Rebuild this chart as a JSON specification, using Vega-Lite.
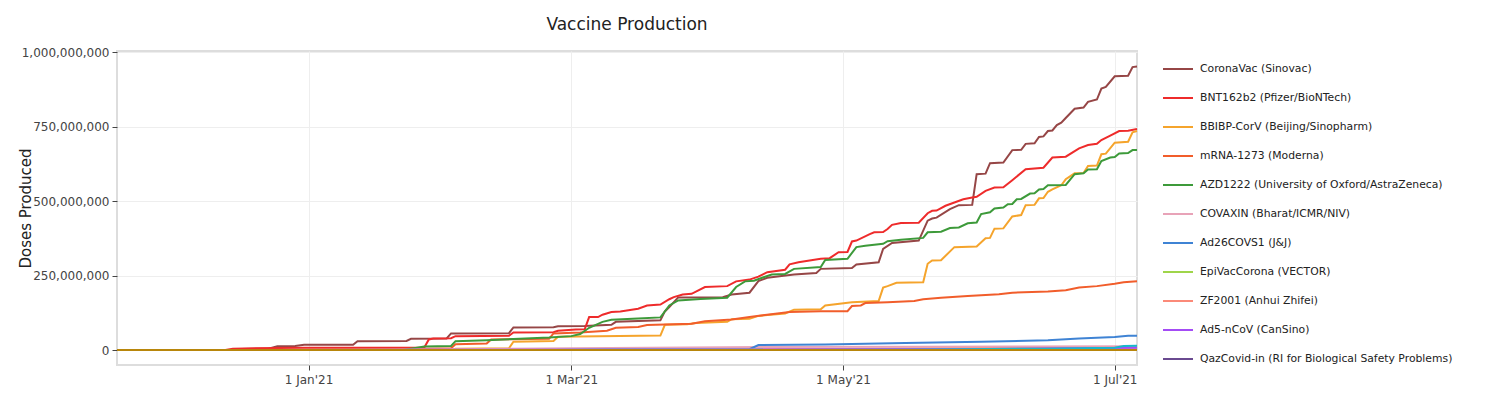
{
  "$schema": "https://vega.github.io/schema/vega-lite/v6.json",
  "width": 1020,
  "height": 314,
  "autosize": "none",
  "padding": {"left": 117, "top": 51, "right": 355, "bottom": 31},
  "background": "white",
  "title": {"text": "Vaccine Production", "fontSize": 17, "font": "DejaVu Sans", "fontWeight": "normal", "color": "#222", "anchor": "middle", "frame": "group", "offset": 12},
  "config": {
    "font": "DejaVu Sans",
    "view": {"stroke": "#dddddd", "strokeWidth": 2},
    "axis": {"domain": false, "gridColor": "#eeeeee", "gridWidth": 1, "tickColor": "#444", "tickSize": 5, "labelColor": "#444", "labelFontSize": 12, "labelFont": "DejaVu Sans"}
  },
  "data": {"values": [
    {"vaccine": "CoronaVac (Sinovac)", "date": "2020-11-19", "doses": 0},
    {"vaccine": "CoronaVac (Sinovac)", "date": "2020-12-15", "doses": 0},
    {"vaccine": "CoronaVac (Sinovac)", "date": "2020-12-17", "doses": 4000000},
    {"vaccine": "CoronaVac (Sinovac)", "date": "2020-12-23", "doses": 5000000},
    {"vaccine": "CoronaVac (Sinovac)", "date": "2020-12-25", "doses": 13000000},
    {"vaccine": "CoronaVac (Sinovac)", "date": "2020-12-29", "doses": 14000000},
    {"vaccine": "CoronaVac (Sinovac)", "date": "2020-12-31", "doses": 18000000},
    {"vaccine": "CoronaVac (Sinovac)", "date": "2021-01-11", "doses": 18000000},
    {"vaccine": "CoronaVac (Sinovac)", "date": "2021-01-12", "doses": 30000000},
    {"vaccine": "CoronaVac (Sinovac)", "date": "2021-01-23", "doses": 31000000},
    {"vaccine": "CoronaVac (Sinovac)", "date": "2021-01-24", "doses": 38000000},
    {"vaccine": "CoronaVac (Sinovac)", "date": "2021-02-01", "doses": 39000000},
    {"vaccine": "CoronaVac (Sinovac)", "date": "2021-02-02", "doses": 56000000},
    {"vaccine": "CoronaVac (Sinovac)", "date": "2021-02-15", "doses": 57000000},
    {"vaccine": "CoronaVac (Sinovac)", "date": "2021-02-16", "doses": 76000000},
    {"vaccine": "CoronaVac (Sinovac)", "date": "2021-02-25", "doses": 77000000},
    {"vaccine": "CoronaVac (Sinovac)", "date": "2021-02-26", "doses": 80000000},
    {"vaccine": "CoronaVac (Sinovac)", "date": "2021-03-04", "doses": 81000000},
    {"vaccine": "CoronaVac (Sinovac)", "date": "2021-03-10", "doses": 85000000},
    {"vaccine": "CoronaVac (Sinovac)", "date": "2021-03-11", "doses": 95000000},
    {"vaccine": "CoronaVac (Sinovac)", "date": "2021-03-21", "doses": 100000000},
    {"vaccine": "CoronaVac (Sinovac)", "date": "2021-03-22", "doses": 130000000},
    {"vaccine": "CoronaVac (Sinovac)", "date": "2021-03-23", "doses": 145000000},
    {"vaccine": "CoronaVac (Sinovac)", "date": "2021-03-25", "doses": 177000000},
    {"vaccine": "CoronaVac (Sinovac)", "date": "2021-04-04", "doses": 178000000},
    {"vaccine": "CoronaVac (Sinovac)", "date": "2021-04-06", "doses": 187000000},
    {"vaccine": "CoronaVac (Sinovac)", "date": "2021-04-10", "doses": 193000000},
    {"vaccine": "CoronaVac (Sinovac)", "date": "2021-04-12", "doses": 232000000},
    {"vaccine": "CoronaVac (Sinovac)", "date": "2021-04-14", "doses": 243000000},
    {"vaccine": "CoronaVac (Sinovac)", "date": "2021-04-20", "doses": 254000000},
    {"vaccine": "CoronaVac (Sinovac)", "date": "2021-04-25", "doses": 259000000},
    {"vaccine": "CoronaVac (Sinovac)", "date": "2021-04-26", "doses": 273000000},
    {"vaccine": "CoronaVac (Sinovac)", "date": "2021-05-03", "doses": 276000000},
    {"vaccine": "CoronaVac (Sinovac)", "date": "2021-05-04", "doses": 288000000},
    {"vaccine": "CoronaVac (Sinovac)", "date": "2021-05-09", "doses": 295000000},
    {"vaccine": "CoronaVac (Sinovac)", "date": "2021-05-10", "doses": 340000000},
    {"vaccine": "CoronaVac (Sinovac)", "date": "2021-05-12", "doses": 360000000},
    {"vaccine": "CoronaVac (Sinovac)", "date": "2021-05-18", "doses": 368000000},
    {"vaccine": "CoronaVac (Sinovac)", "date": "2021-05-20", "doses": 435000000},
    {"vaccine": "CoronaVac (Sinovac)", "date": "2021-05-21", "doses": 442000000},
    {"vaccine": "CoronaVac (Sinovac)", "date": "2021-05-22", "doses": 445000000},
    {"vaccine": "CoronaVac (Sinovac)", "date": "2021-05-25", "doses": 474000000},
    {"vaccine": "CoronaVac (Sinovac)", "date": "2021-05-27", "doses": 487000000},
    {"vaccine": "CoronaVac (Sinovac)", "date": "2021-05-30", "doses": 488000000},
    {"vaccine": "CoronaVac (Sinovac)", "date": "2021-05-31", "doses": 591000000},
    {"vaccine": "CoronaVac (Sinovac)", "date": "2021-06-02", "doses": 593000000},
    {"vaccine": "CoronaVac (Sinovac)", "date": "2021-06-03", "doses": 628000000},
    {"vaccine": "CoronaVac (Sinovac)", "date": "2021-06-06", "doses": 630000000},
    {"vaccine": "CoronaVac (Sinovac)", "date": "2021-06-08", "doses": 672000000},
    {"vaccine": "CoronaVac (Sinovac)", "date": "2021-06-10", "doses": 673000000},
    {"vaccine": "CoronaVac (Sinovac)", "date": "2021-06-11", "doses": 693000000},
    {"vaccine": "CoronaVac (Sinovac)", "date": "2021-06-13", "doses": 695000000},
    {"vaccine": "CoronaVac (Sinovac)", "date": "2021-06-14", "doses": 716000000},
    {"vaccine": "CoronaVac (Sinovac)", "date": "2021-06-15", "doses": 718000000},
    {"vaccine": "CoronaVac (Sinovac)", "date": "2021-06-16", "doses": 736000000},
    {"vaccine": "CoronaVac (Sinovac)", "date": "2021-06-17", "doses": 738000000},
    {"vaccine": "CoronaVac (Sinovac)", "date": "2021-06-18", "doses": 756000000},
    {"vaccine": "CoronaVac (Sinovac)", "date": "2021-06-19", "doses": 764000000},
    {"vaccine": "CoronaVac (Sinovac)", "date": "2021-06-20", "doses": 780000000},
    {"vaccine": "CoronaVac (Sinovac)", "date": "2021-06-22", "doses": 811000000},
    {"vaccine": "CoronaVac (Sinovac)", "date": "2021-06-24", "doses": 815000000},
    {"vaccine": "CoronaVac (Sinovac)", "date": "2021-06-25", "doses": 834000000},
    {"vaccine": "CoronaVac (Sinovac)", "date": "2021-06-27", "doses": 842000000},
    {"vaccine": "CoronaVac (Sinovac)", "date": "2021-06-28", "doses": 879000000},
    {"vaccine": "CoronaVac (Sinovac)", "date": "2021-06-29", "doses": 884000000},
    {"vaccine": "CoronaVac (Sinovac)", "date": "2021-07-01", "doses": 920000000},
    {"vaccine": "CoronaVac (Sinovac)", "date": "2021-07-04", "doses": 922000000},
    {"vaccine": "CoronaVac (Sinovac)", "date": "2021-07-05", "doses": 951000000},
    {"vaccine": "CoronaVac (Sinovac)", "date": "2021-07-06", "doses": 953000000},

    {"vaccine": "BNT162b2 (Pfizer/BioNTech)", "date": "2020-11-19", "doses": 0},
    {"vaccine": "BNT162b2 (Pfizer/BioNTech)", "date": "2020-12-13", "doses": 0},
    {"vaccine": "BNT162b2 (Pfizer/BioNTech)", "date": "2020-12-15", "doses": 5000000},
    {"vaccine": "BNT162b2 (Pfizer/BioNTech)", "date": "2020-12-31", "doses": 8000000},
    {"vaccine": "BNT162b2 (Pfizer/BioNTech)", "date": "2021-01-27", "doses": 9000000},
    {"vaccine": "BNT162b2 (Pfizer/BioNTech)", "date": "2021-01-28", "doses": 36000000},
    {"vaccine": "BNT162b2 (Pfizer/BioNTech)", "date": "2021-01-29", "doses": 39000000},
    {"vaccine": "BNT162b2 (Pfizer/BioNTech)", "date": "2021-02-02", "doses": 40000000},
    {"vaccine": "BNT162b2 (Pfizer/BioNTech)", "date": "2021-02-03", "doses": 47000000},
    {"vaccine": "BNT162b2 (Pfizer/BioNTech)", "date": "2021-02-15", "doses": 48000000},
    {"vaccine": "BNT162b2 (Pfizer/BioNTech)", "date": "2021-02-16", "doses": 59000000},
    {"vaccine": "BNT162b2 (Pfizer/BioNTech)", "date": "2021-02-25", "doses": 60000000},
    {"vaccine": "BNT162b2 (Pfizer/BioNTech)", "date": "2021-02-26", "doses": 65000000},
    {"vaccine": "BNT162b2 (Pfizer/BioNTech)", "date": "2021-03-02", "doses": 69000000},
    {"vaccine": "BNT162b2 (Pfizer/BioNTech)", "date": "2021-03-04", "doses": 70000000},
    {"vaccine": "BNT162b2 (Pfizer/BioNTech)", "date": "2021-03-05", "doses": 111000000},
    {"vaccine": "BNT162b2 (Pfizer/BioNTech)", "date": "2021-03-07", "doses": 111000000},
    {"vaccine": "BNT162b2 (Pfizer/BioNTech)", "date": "2021-03-08", "doses": 119000000},
    {"vaccine": "BNT162b2 (Pfizer/BioNTech)", "date": "2021-03-10", "doses": 128000000},
    {"vaccine": "BNT162b2 (Pfizer/BioNTech)", "date": "2021-03-12", "doses": 130000000},
    {"vaccine": "BNT162b2 (Pfizer/BioNTech)", "date": "2021-03-16", "doses": 139000000},
    {"vaccine": "BNT162b2 (Pfizer/BioNTech)", "date": "2021-03-18", "doses": 150000000},
    {"vaccine": "BNT162b2 (Pfizer/BioNTech)", "date": "2021-03-21", "doses": 153000000},
    {"vaccine": "BNT162b2 (Pfizer/BioNTech)", "date": "2021-03-23", "doses": 171000000},
    {"vaccine": "BNT162b2 (Pfizer/BioNTech)", "date": "2021-03-24", "doses": 178000000},
    {"vaccine": "BNT162b2 (Pfizer/BioNTech)", "date": "2021-03-26", "doses": 187000000},
    {"vaccine": "BNT162b2 (Pfizer/BioNTech)", "date": "2021-03-28", "doses": 189000000},
    {"vaccine": "BNT162b2 (Pfizer/BioNTech)", "date": "2021-03-31", "doses": 212000000},
    {"vaccine": "BNT162b2 (Pfizer/BioNTech)", "date": "2021-04-05", "doses": 215000000},
    {"vaccine": "BNT162b2 (Pfizer/BioNTech)", "date": "2021-04-07", "doses": 231000000},
    {"vaccine": "BNT162b2 (Pfizer/BioNTech)", "date": "2021-04-10", "doses": 237000000},
    {"vaccine": "BNT162b2 (Pfizer/BioNTech)", "date": "2021-04-12", "doses": 247000000},
    {"vaccine": "BNT162b2 (Pfizer/BioNTech)", "date": "2021-04-14", "doses": 262000000},
    {"vaccine": "BNT162b2 (Pfizer/BioNTech)", "date": "2021-04-18", "doses": 270000000},
    {"vaccine": "BNT162b2 (Pfizer/BioNTech)", "date": "2021-04-19", "doses": 288000000},
    {"vaccine": "BNT162b2 (Pfizer/BioNTech)", "date": "2021-04-21", "doses": 295000000},
    {"vaccine": "BNT162b2 (Pfizer/BioNTech)", "date": "2021-04-26", "doses": 307000000},
    {"vaccine": "BNT162b2 (Pfizer/BioNTech)", "date": "2021-04-28", "doses": 309000000},
    {"vaccine": "BNT162b2 (Pfizer/BioNTech)", "date": "2021-04-30", "doses": 329000000},
    {"vaccine": "BNT162b2 (Pfizer/BioNTech)", "date": "2021-05-02", "doses": 330000000},
    {"vaccine": "BNT162b2 (Pfizer/BioNTech)", "date": "2021-05-03", "doses": 365000000},
    {"vaccine": "BNT162b2 (Pfizer/BioNTech)", "date": "2021-05-04", "doses": 368000000},
    {"vaccine": "BNT162b2 (Pfizer/BioNTech)", "date": "2021-05-07", "doses": 390000000},
    {"vaccine": "BNT162b2 (Pfizer/BioNTech)", "date": "2021-05-08", "doses": 396000000},
    {"vaccine": "BNT162b2 (Pfizer/BioNTech)", "date": "2021-05-10", "doses": 397000000},
    {"vaccine": "BNT162b2 (Pfizer/BioNTech)", "date": "2021-05-11", "doses": 407000000},
    {"vaccine": "BNT162b2 (Pfizer/BioNTech)", "date": "2021-05-12", "doses": 421000000},
    {"vaccine": "BNT162b2 (Pfizer/BioNTech)", "date": "2021-05-14", "doses": 427000000},
    {"vaccine": "BNT162b2 (Pfizer/BioNTech)", "date": "2021-05-18", "doses": 428000000},
    {"vaccine": "BNT162b2 (Pfizer/BioNTech)", "date": "2021-05-20", "doses": 460000000},
    {"vaccine": "BNT162b2 (Pfizer/BioNTech)", "date": "2021-05-21", "doses": 468000000},
    {"vaccine": "BNT162b2 (Pfizer/BioNTech)", "date": "2021-05-22", "doses": 469000000},
    {"vaccine": "BNT162b2 (Pfizer/BioNTech)", "date": "2021-05-24", "doses": 485000000},
    {"vaccine": "BNT162b2 (Pfizer/BioNTech)", "date": "2021-05-26", "doses": 496000000},
    {"vaccine": "BNT162b2 (Pfizer/BioNTech)", "date": "2021-05-28", "doses": 507000000},
    {"vaccine": "BNT162b2 (Pfizer/BioNTech)", "date": "2021-05-30", "doses": 513000000},
    {"vaccine": "BNT162b2 (Pfizer/BioNTech)", "date": "2021-05-31", "doses": 515000000},
    {"vaccine": "BNT162b2 (Pfizer/BioNTech)", "date": "2021-06-02", "doses": 535000000},
    {"vaccine": "BNT162b2 (Pfizer/BioNTech)", "date": "2021-06-04", "doses": 546000000},
    {"vaccine": "BNT162b2 (Pfizer/BioNTech)", "date": "2021-06-06", "doses": 547000000},
    {"vaccine": "BNT162b2 (Pfizer/BioNTech)", "date": "2021-06-08", "doses": 571000000},
    {"vaccine": "BNT162b2 (Pfizer/BioNTech)", "date": "2021-06-11", "doses": 608000000},
    {"vaccine": "BNT162b2 (Pfizer/BioNTech)", "date": "2021-06-15", "doses": 613000000},
    {"vaccine": "BNT162b2 (Pfizer/BioNTech)", "date": "2021-06-17", "doses": 647000000},
    {"vaccine": "BNT162b2 (Pfizer/BioNTech)", "date": "2021-06-20", "doses": 650000000},
    {"vaccine": "BNT162b2 (Pfizer/BioNTech)", "date": "2021-06-23", "doses": 678000000},
    {"vaccine": "BNT162b2 (Pfizer/BioNTech)", "date": "2021-06-25", "doses": 689000000},
    {"vaccine": "BNT162b2 (Pfizer/BioNTech)", "date": "2021-06-27", "doses": 693000000},
    {"vaccine": "BNT162b2 (Pfizer/BioNTech)", "date": "2021-06-28", "doses": 706000000},
    {"vaccine": "BNT162b2 (Pfizer/BioNTech)", "date": "2021-06-30", "doses": 721000000},
    {"vaccine": "BNT162b2 (Pfizer/BioNTech)", "date": "2021-07-02", "doses": 736000000},
    {"vaccine": "BNT162b2 (Pfizer/BioNTech)", "date": "2021-07-04", "doses": 737000000},
    {"vaccine": "BNT162b2 (Pfizer/BioNTech)", "date": "2021-07-06", "doses": 743000000},

    {"vaccine": "BBIBP-CorV (Beijing/Sinopharm)", "date": "2020-11-19", "doses": 0},
    {"vaccine": "BBIBP-CorV (Beijing/Sinopharm)", "date": "2021-02-02", "doses": 0},
    {"vaccine": "BBIBP-CorV (Beijing/Sinopharm)", "date": "2021-02-03", "doses": 5000000},
    {"vaccine": "BBIBP-CorV (Beijing/Sinopharm)", "date": "2021-02-15", "doses": 6000000},
    {"vaccine": "BBIBP-CorV (Beijing/Sinopharm)", "date": "2021-02-16", "doses": 28000000},
    {"vaccine": "BBIBP-CorV (Beijing/Sinopharm)", "date": "2021-02-25", "doses": 31000000},
    {"vaccine": "BBIBP-CorV (Beijing/Sinopharm)", "date": "2021-02-26", "doses": 45000000},
    {"vaccine": "BBIBP-CorV (Beijing/Sinopharm)", "date": "2021-03-21", "doses": 49000000},
    {"vaccine": "BBIBP-CorV (Beijing/Sinopharm)", "date": "2021-03-22", "doses": 85000000},
    {"vaccine": "BBIBP-CorV (Beijing/Sinopharm)", "date": "2021-03-27", "doses": 87000000},
    {"vaccine": "BBIBP-CorV (Beijing/Sinopharm)", "date": "2021-03-29", "doses": 91000000},
    {"vaccine": "BBIBP-CorV (Beijing/Sinopharm)", "date": "2021-04-05", "doses": 95000000},
    {"vaccine": "BBIBP-CorV (Beijing/Sinopharm)", "date": "2021-04-06", "doses": 104000000},
    {"vaccine": "BBIBP-CorV (Beijing/Sinopharm)", "date": "2021-04-10", "doses": 105000000},
    {"vaccine": "BBIBP-CorV (Beijing/Sinopharm)", "date": "2021-04-12", "doses": 115000000},
    {"vaccine": "BBIBP-CorV (Beijing/Sinopharm)", "date": "2021-04-18", "doses": 123000000},
    {"vaccine": "BBIBP-CorV (Beijing/Sinopharm)", "date": "2021-04-20", "doses": 136000000},
    {"vaccine": "BBIBP-CorV (Beijing/Sinopharm)", "date": "2021-04-26", "doses": 137000000},
    {"vaccine": "BBIBP-CorV (Beijing/Sinopharm)", "date": "2021-04-27", "doses": 150000000},
    {"vaccine": "BBIBP-CorV (Beijing/Sinopharm)", "date": "2021-05-03", "doses": 161000000},
    {"vaccine": "BBIBP-CorV (Beijing/Sinopharm)", "date": "2021-05-09", "doses": 165000000},
    {"vaccine": "BBIBP-CorV (Beijing/Sinopharm)", "date": "2021-05-10", "doses": 210000000},
    {"vaccine": "BBIBP-CorV (Beijing/Sinopharm)", "date": "2021-05-11", "doses": 215000000},
    {"vaccine": "BBIBP-CorV (Beijing/Sinopharm)", "date": "2021-05-13", "doses": 226000000},
    {"vaccine": "BBIBP-CorV (Beijing/Sinopharm)", "date": "2021-05-19", "doses": 228000000},
    {"vaccine": "BBIBP-CorV (Beijing/Sinopharm)", "date": "2021-05-20", "doses": 290000000},
    {"vaccine": "BBIBP-CorV (Beijing/Sinopharm)", "date": "2021-05-21", "doses": 301000000},
    {"vaccine": "BBIBP-CorV (Beijing/Sinopharm)", "date": "2021-05-23", "doses": 302000000},
    {"vaccine": "BBIBP-CorV (Beijing/Sinopharm)", "date": "2021-05-26", "doses": 346000000},
    {"vaccine": "BBIBP-CorV (Beijing/Sinopharm)", "date": "2021-05-31", "doses": 348000000},
    {"vaccine": "BBIBP-CorV (Beijing/Sinopharm)", "date": "2021-06-02", "doses": 376000000},
    {"vaccine": "BBIBP-CorV (Beijing/Sinopharm)", "date": "2021-06-03", "doses": 377000000},
    {"vaccine": "BBIBP-CorV (Beijing/Sinopharm)", "date": "2021-06-04", "doses": 408000000},
    {"vaccine": "BBIBP-CorV (Beijing/Sinopharm)", "date": "2021-06-06", "doses": 409000000},
    {"vaccine": "BBIBP-CorV (Beijing/Sinopharm)", "date": "2021-06-08", "doses": 449000000},
    {"vaccine": "BBIBP-CorV (Beijing/Sinopharm)", "date": "2021-06-10", "doses": 454000000},
    {"vaccine": "BBIBP-CorV (Beijing/Sinopharm)", "date": "2021-06-11", "doses": 487000000},
    {"vaccine": "BBIBP-CorV (Beijing/Sinopharm)", "date": "2021-06-13", "doses": 488000000},
    {"vaccine": "BBIBP-CorV (Beijing/Sinopharm)", "date": "2021-06-14", "doses": 510000000},
    {"vaccine": "BBIBP-CorV (Beijing/Sinopharm)", "date": "2021-06-15", "doses": 511000000},
    {"vaccine": "BBIBP-CorV (Beijing/Sinopharm)", "date": "2021-06-16", "doses": 532000000},
    {"vaccine": "BBIBP-CorV (Beijing/Sinopharm)", "date": "2021-06-17", "doses": 540000000},
    {"vaccine": "BBIBP-CorV (Beijing/Sinopharm)", "date": "2021-06-19", "doses": 554000000},
    {"vaccine": "BBIBP-CorV (Beijing/Sinopharm)", "date": "2021-06-20", "doses": 574000000},
    {"vaccine": "BBIBP-CorV (Beijing/Sinopharm)", "date": "2021-06-22", "doses": 594000000},
    {"vaccine": "BBIBP-CorV (Beijing/Sinopharm)", "date": "2021-06-24", "doses": 595000000},
    {"vaccine": "BBIBP-CorV (Beijing/Sinopharm)", "date": "2021-06-25", "doses": 619000000},
    {"vaccine": "BBIBP-CorV (Beijing/Sinopharm)", "date": "2021-06-27", "doses": 620000000},
    {"vaccine": "BBIBP-CorV (Beijing/Sinopharm)", "date": "2021-06-28", "doses": 658000000},
    {"vaccine": "BBIBP-CorV (Beijing/Sinopharm)", "date": "2021-06-29", "doses": 660000000},
    {"vaccine": "BBIBP-CorV (Beijing/Sinopharm)", "date": "2021-07-01", "doses": 697000000},
    {"vaccine": "BBIBP-CorV (Beijing/Sinopharm)", "date": "2021-07-04", "doses": 700000000},
    {"vaccine": "BBIBP-CorV (Beijing/Sinopharm)", "date": "2021-07-05", "doses": 732000000},
    {"vaccine": "BBIBP-CorV (Beijing/Sinopharm)", "date": "2021-07-06", "doses": 736000000},

    {"vaccine": "mRNA-1273 (Moderna)", "date": "2020-11-19", "doses": 0},
    {"vaccine": "mRNA-1273 (Moderna)", "date": "2020-12-20", "doses": 0},
    {"vaccine": "mRNA-1273 (Moderna)", "date": "2021-01-27", "doses": 5000000},
    {"vaccine": "mRNA-1273 (Moderna)", "date": "2021-02-02", "doses": 6000000},
    {"vaccine": "mRNA-1273 (Moderna)", "date": "2021-02-03", "doses": 20000000},
    {"vaccine": "mRNA-1273 (Moderna)", "date": "2021-02-10", "doses": 22000000},
    {"vaccine": "mRNA-1273 (Moderna)", "date": "2021-02-11", "doses": 36000000},
    {"vaccine": "mRNA-1273 (Moderna)", "date": "2021-02-24", "doses": 38000000},
    {"vaccine": "mRNA-1273 (Moderna)", "date": "2021-02-25", "doses": 56000000},
    {"vaccine": "mRNA-1273 (Moderna)", "date": "2021-03-03", "doses": 59000000},
    {"vaccine": "mRNA-1273 (Moderna)", "date": "2021-03-09", "doses": 65000000},
    {"vaccine": "mRNA-1273 (Moderna)", "date": "2021-03-11", "doses": 75000000},
    {"vaccine": "mRNA-1273 (Moderna)", "date": "2021-03-16", "doses": 78000000},
    {"vaccine": "mRNA-1273 (Moderna)", "date": "2021-03-18", "doses": 84000000},
    {"vaccine": "mRNA-1273 (Moderna)", "date": "2021-03-24", "doses": 87000000},
    {"vaccine": "mRNA-1273 (Moderna)", "date": "2021-03-28", "doses": 89000000},
    {"vaccine": "mRNA-1273 (Moderna)", "date": "2021-03-31", "doses": 97000000},
    {"vaccine": "mRNA-1273 (Moderna)", "date": "2021-04-06", "doses": 103000000},
    {"vaccine": "mRNA-1273 (Moderna)", "date": "2021-04-10", "doses": 111000000},
    {"vaccine": "mRNA-1273 (Moderna)", "date": "2021-04-13", "doses": 117000000},
    {"vaccine": "mRNA-1273 (Moderna)", "date": "2021-04-19", "doses": 128000000},
    {"vaccine": "mRNA-1273 (Moderna)", "date": "2021-04-26", "doses": 131000000},
    {"vaccine": "mRNA-1273 (Moderna)", "date": "2021-05-02", "doses": 131000000},
    {"vaccine": "mRNA-1273 (Moderna)", "date": "2021-05-03", "doses": 148000000},
    {"vaccine": "mRNA-1273 (Moderna)", "date": "2021-05-05", "doses": 150000000},
    {"vaccine": "mRNA-1273 (Moderna)", "date": "2021-05-06", "doses": 158000000},
    {"vaccine": "mRNA-1273 (Moderna)", "date": "2021-05-11", "doses": 161000000},
    {"vaccine": "mRNA-1273 (Moderna)", "date": "2021-05-17", "doses": 165000000},
    {"vaccine": "mRNA-1273 (Moderna)", "date": "2021-05-19", "doses": 171000000},
    {"vaccine": "mRNA-1273 (Moderna)", "date": "2021-05-23", "doses": 176000000},
    {"vaccine": "mRNA-1273 (Moderna)", "date": "2021-05-29", "doses": 182000000},
    {"vaccine": "mRNA-1273 (Moderna)", "date": "2021-06-05", "doses": 188000000},
    {"vaccine": "mRNA-1273 (Moderna)", "date": "2021-06-08", "doses": 193000000},
    {"vaccine": "mRNA-1273 (Moderna)", "date": "2021-06-16", "doses": 197000000},
    {"vaccine": "mRNA-1273 (Moderna)", "date": "2021-06-20", "doses": 201000000},
    {"vaccine": "mRNA-1273 (Moderna)", "date": "2021-06-23", "doses": 210000000},
    {"vaccine": "mRNA-1273 (Moderna)", "date": "2021-06-27", "doses": 215000000},
    {"vaccine": "mRNA-1273 (Moderna)", "date": "2021-07-01", "doses": 223000000},
    {"vaccine": "mRNA-1273 (Moderna)", "date": "2021-07-03", "doses": 228000000},
    {"vaccine": "mRNA-1273 (Moderna)", "date": "2021-07-06", "doses": 231000000},

    {"vaccine": "AZD1222 (University of Oxford/AstraZeneca)", "date": "2020-11-19", "doses": 0},
    {"vaccine": "AZD1222 (University of Oxford/AstraZeneca)", "date": "2021-01-22", "doses": 0},
    {"vaccine": "AZD1222 (University of Oxford/AstraZeneca)", "date": "2021-01-24", "doses": 5000000},
    {"vaccine": "AZD1222 (University of Oxford/AstraZeneca)", "date": "2021-01-27", "doses": 12000000},
    {"vaccine": "AZD1222 (University of Oxford/AstraZeneca)", "date": "2021-02-02", "doses": 14000000},
    {"vaccine": "AZD1222 (University of Oxford/AstraZeneca)", "date": "2021-02-03", "doses": 30000000},
    {"vaccine": "AZD1222 (University of Oxford/AstraZeneca)", "date": "2021-02-10", "doses": 33000000},
    {"vaccine": "AZD1222 (University of Oxford/AstraZeneca)", "date": "2021-02-16", "doses": 37000000},
    {"vaccine": "AZD1222 (University of Oxford/AstraZeneca)", "date": "2021-02-24", "doses": 42000000},
    {"vaccine": "AZD1222 (University of Oxford/AstraZeneca)", "date": "2021-03-01", "doses": 47000000},
    {"vaccine": "AZD1222 (University of Oxford/AstraZeneca)", "date": "2021-03-03", "doses": 54000000},
    {"vaccine": "AZD1222 (University of Oxford/AstraZeneca)", "date": "2021-03-05", "doses": 75000000},
    {"vaccine": "AZD1222 (University of Oxford/AstraZeneca)", "date": "2021-03-08", "doses": 95000000},
    {"vaccine": "AZD1222 (University of Oxford/AstraZeneca)", "date": "2021-03-10", "doses": 102000000},
    {"vaccine": "AZD1222 (University of Oxford/AstraZeneca)", "date": "2021-03-16", "doses": 106000000},
    {"vaccine": "AZD1222 (University of Oxford/AstraZeneca)", "date": "2021-03-21", "doses": 110000000},
    {"vaccine": "AZD1222 (University of Oxford/AstraZeneca)", "date": "2021-03-23", "doses": 150000000},
    {"vaccine": "AZD1222 (University of Oxford/AstraZeneca)", "date": "2021-03-25", "doses": 167000000},
    {"vaccine": "AZD1222 (University of Oxford/AstraZeneca)", "date": "2021-03-30", "doses": 172000000},
    {"vaccine": "AZD1222 (University of Oxford/AstraZeneca)", "date": "2021-04-05", "doses": 176000000},
    {"vaccine": "AZD1222 (University of Oxford/AstraZeneca)", "date": "2021-04-07", "doses": 212000000},
    {"vaccine": "AZD1222 (University of Oxford/AstraZeneca)", "date": "2021-04-09", "doses": 231000000},
    {"vaccine": "AZD1222 (University of Oxford/AstraZeneca)", "date": "2021-04-11", "doses": 233000000},
    {"vaccine": "AZD1222 (University of Oxford/AstraZeneca)", "date": "2021-04-13", "doses": 244000000},
    {"vaccine": "AZD1222 (University of Oxford/AstraZeneca)", "date": "2021-04-15", "doses": 254000000},
    {"vaccine": "AZD1222 (University of Oxford/AstraZeneca)", "date": "2021-04-18", "doses": 256000000},
    {"vaccine": "AZD1222 (University of Oxford/AstraZeneca)", "date": "2021-04-20", "doses": 273000000},
    {"vaccine": "AZD1222 (University of Oxford/AstraZeneca)", "date": "2021-04-26", "doses": 279000000},
    {"vaccine": "AZD1222 (University of Oxford/AstraZeneca)", "date": "2021-04-27", "doses": 303000000},
    {"vaccine": "AZD1222 (University of Oxford/AstraZeneca)", "date": "2021-05-02", "doses": 307000000},
    {"vaccine": "AZD1222 (University of Oxford/AstraZeneca)", "date": "2021-05-04", "doses": 346000000},
    {"vaccine": "AZD1222 (University of Oxford/AstraZeneca)", "date": "2021-05-06", "doses": 351000000},
    {"vaccine": "AZD1222 (University of Oxford/AstraZeneca)", "date": "2021-05-10", "doses": 357000000},
    {"vaccine": "AZD1222 (University of Oxford/AstraZeneca)", "date": "2021-05-11", "doses": 366000000},
    {"vaccine": "AZD1222 (University of Oxford/AstraZeneca)", "date": "2021-05-14", "doses": 371000000},
    {"vaccine": "AZD1222 (University of Oxford/AstraZeneca)", "date": "2021-05-19", "doses": 377000000},
    {"vaccine": "AZD1222 (University of Oxford/AstraZeneca)", "date": "2021-05-20", "doses": 396000000},
    {"vaccine": "AZD1222 (University of Oxford/AstraZeneca)", "date": "2021-05-23", "doses": 398000000},
    {"vaccine": "AZD1222 (University of Oxford/AstraZeneca)", "date": "2021-05-25", "doses": 410000000},
    {"vaccine": "AZD1222 (University of Oxford/AstraZeneca)", "date": "2021-05-27", "doses": 412000000},
    {"vaccine": "AZD1222 (University of Oxford/AstraZeneca)", "date": "2021-05-29", "doses": 426000000},
    {"vaccine": "AZD1222 (University of Oxford/AstraZeneca)", "date": "2021-05-31", "doses": 429000000},
    {"vaccine": "AZD1222 (University of Oxford/AstraZeneca)", "date": "2021-06-01", "doses": 457000000},
    {"vaccine": "AZD1222 (University of Oxford/AstraZeneca)", "date": "2021-06-03", "doses": 463000000},
    {"vaccine": "AZD1222 (University of Oxford/AstraZeneca)", "date": "2021-06-04", "doses": 476000000},
    {"vaccine": "AZD1222 (University of Oxford/AstraZeneca)", "date": "2021-06-06", "doses": 479000000},
    {"vaccine": "AZD1222 (University of Oxford/AstraZeneca)", "date": "2021-06-07", "doses": 490000000},
    {"vaccine": "AZD1222 (University of Oxford/AstraZeneca)", "date": "2021-06-08", "doses": 491000000},
    {"vaccine": "AZD1222 (University of Oxford/AstraZeneca)", "date": "2021-06-09", "doses": 507000000},
    {"vaccine": "AZD1222 (University of Oxford/AstraZeneca)", "date": "2021-06-10", "doses": 508000000},
    {"vaccine": "AZD1222 (University of Oxford/AstraZeneca)", "date": "2021-06-12", "doses": 526000000},
    {"vaccine": "AZD1222 (University of Oxford/AstraZeneca)", "date": "2021-06-13", "doses": 527000000},
    {"vaccine": "AZD1222 (University of Oxford/AstraZeneca)", "date": "2021-06-14", "doses": 540000000},
    {"vaccine": "AZD1222 (University of Oxford/AstraZeneca)", "date": "2021-06-15", "doses": 541000000},
    {"vaccine": "AZD1222 (University of Oxford/AstraZeneca)", "date": "2021-06-16", "doses": 554000000},
    {"vaccine": "AZD1222 (University of Oxford/AstraZeneca)", "date": "2021-06-20", "doses": 555000000},
    {"vaccine": "AZD1222 (University of Oxford/AstraZeneca)", "date": "2021-06-22", "doses": 591000000},
    {"vaccine": "AZD1222 (University of Oxford/AstraZeneca)", "date": "2021-06-24", "doses": 594000000},
    {"vaccine": "AZD1222 (University of Oxford/AstraZeneca)", "date": "2021-06-25", "doses": 607000000},
    {"vaccine": "AZD1222 (University of Oxford/AstraZeneca)", "date": "2021-06-27", "doses": 608000000},
    {"vaccine": "AZD1222 (University of Oxford/AstraZeneca)", "date": "2021-06-28", "doses": 635000000},
    {"vaccine": "AZD1222 (University of Oxford/AstraZeneca)", "date": "2021-06-30", "doses": 647000000},
    {"vaccine": "AZD1222 (University of Oxford/AstraZeneca)", "date": "2021-07-01", "doses": 649000000},
    {"vaccine": "AZD1222 (University of Oxford/AstraZeneca)", "date": "2021-07-02", "doses": 661000000},
    {"vaccine": "AZD1222 (University of Oxford/AstraZeneca)", "date": "2021-07-04", "doses": 662000000},
    {"vaccine": "AZD1222 (University of Oxford/AstraZeneca)", "date": "2021-07-05", "doses": 672000000},
    {"vaccine": "AZD1222 (University of Oxford/AstraZeneca)", "date": "2021-07-06", "doses": 672000000},

    {"vaccine": "COVAXIN (Bharat/ICMR/NIV)", "date": "2020-11-19", "doses": 0},
    {"vaccine": "COVAXIN (Bharat/ICMR/NIV)", "date": "2021-01-10", "doses": 0},
    {"vaccine": "COVAXIN (Bharat/ICMR/NIV)", "date": "2021-02-01", "doses": 3000000},
    {"vaccine": "COVAXIN (Bharat/ICMR/NIV)", "date": "2021-03-01", "doses": 6000000},
    {"vaccine": "COVAXIN (Bharat/ICMR/NIV)", "date": "2021-04-05", "doses": 10000000},
    {"vaccine": "COVAXIN (Bharat/ICMR/NIV)", "date": "2021-05-15", "doses": 11000000},
    {"vaccine": "COVAXIN (Bharat/ICMR/NIV)", "date": "2021-07-06", "doses": 13000000},

    {"vaccine": "Ad26COVS1 (J&J)", "date": "2020-11-19", "doses": 0},
    {"vaccine": "Ad26COVS1 (J&J)", "date": "2021-02-25", "doses": 0},
    {"vaccine": "Ad26COVS1 (J&J)", "date": "2021-03-05", "doses": 1000000},
    {"vaccine": "Ad26COVS1 (J&J)", "date": "2021-04-10", "doses": 3000000},
    {"vaccine": "Ad26COVS1 (J&J)", "date": "2021-04-12", "doses": 17000000},
    {"vaccine": "Ad26COVS1 (J&J)", "date": "2021-04-27", "doses": 19000000},
    {"vaccine": "Ad26COVS1 (J&J)", "date": "2021-05-15", "doses": 24000000},
    {"vaccine": "Ad26COVS1 (J&J)", "date": "2021-06-01", "doses": 28000000},
    {"vaccine": "Ad26COVS1 (J&J)", "date": "2021-06-16", "doses": 33000000},
    {"vaccine": "Ad26COVS1 (J&J)", "date": "2021-06-23", "doses": 39000000},
    {"vaccine": "Ad26COVS1 (J&J)", "date": "2021-07-01", "doses": 44000000},
    {"vaccine": "Ad26COVS1 (J&J)", "date": "2021-07-04", "doses": 48000000},
    {"vaccine": "Ad26COVS1 (J&J)", "date": "2021-07-06", "doses": 48000000},

    {"vaccine": "EpiVacCorona (VECTOR)", "date": "2020-11-19", "doses": 0},
    {"vaccine": "EpiVacCorona (VECTOR)", "date": "2021-01-01", "doses": 200000},
    {"vaccine": "EpiVacCorona (VECTOR)", "date": "2021-07-06", "doses": 1000000},

    {"vaccine": "ZF2001 (Anhui Zhifei)", "date": "2020-11-19", "doses": 0},
    {"vaccine": "ZF2001 (Anhui Zhifei)", "date": "2021-03-10", "doses": 0},
    {"vaccine": "ZF2001 (Anhui Zhifei)", "date": "2021-04-01", "doses": 2000000},
    {"vaccine": "ZF2001 (Anhui Zhifei)", "date": "2021-05-01", "doses": 4000000},
    {"vaccine": "ZF2001 (Anhui Zhifei)", "date": "2021-06-01", "doses": 6000000},
    {"vaccine": "ZF2001 (Anhui Zhifei)", "date": "2021-07-06", "doses": 8000000},

    {"vaccine": "Ad5-nCoV (CanSino)", "date": "2020-11-19", "doses": 0},
    {"vaccine": "Ad5-nCoV (CanSino)", "date": "2021-02-01", "doses": 1000000},
    {"vaccine": "Ad5-nCoV (CanSino)", "date": "2021-04-01", "doses": 2000000},
    {"vaccine": "Ad5-nCoV (CanSino)", "date": "2021-06-01", "doses": 4000000},
    {"vaccine": "Ad5-nCoV (CanSino)", "date": "2021-06-20", "doses": 6000000},
    {"vaccine": "Ad5-nCoV (CanSino)", "date": "2021-07-06", "doses": 8000000},

    {"vaccine": "QazCovid-in (RI for Biological Safety Problems)", "date": "2020-11-19", "doses": 0},
    {"vaccine": "QazCovid-in (RI for Biological Safety Problems)", "date": "2021-07-06", "doses": 500000},

    {"vaccine": "Sputnik V (Gamaleya)", "date": "2020-11-19", "doses": 0},
    {"vaccine": "Sputnik V (Gamaleya)", "date": "2021-05-15", "doses": 1000000},
    {"vaccine": "Sputnik V (Gamaleya)", "date": "2021-06-15", "doses": 5000000},
    {"vaccine": "Sputnik V (Gamaleya)", "date": "2021-07-01", "doses": 8000000},
    {"vaccine": "Sputnik V (Gamaleya)", "date": "2021-07-03", "doses": 14000000},
    {"vaccine": "Sputnik V (Gamaleya)", "date": "2021-07-06", "doses": 15000000},

    {"vaccine": "NVX-CoV2373 (Novavax)", "date": "2020-11-19", "doses": 0},
    {"vaccine": "NVX-CoV2373 (Novavax)", "date": "2021-07-06", "doses": 0}
  ]},
  "mark": {"type": "line", "strokeWidth": 2, "interpolate": "linear"},
  "encoding": {
    "x": {
      "field": "date", "type": "temporal",
      "scale": {"domain": [{"year": 2020, "month": 11, "date": 19}, {"year": 2021, "month": 7, "date": 6}], "nice": false},
      "axis": {"title": null, "format": "%-d %b'%y", "values": [{"year": 2021, "month": 1, "date": 1}, {"year": 2021, "month": 3, "date": 1}, {"year": 2021, "month": 5, "date": 1}, {"year": 2021, "month": 7, "date": 1}], "labelPadding": 4, "grid": true}
    },
    "y": {
      "field": "doses", "type": "quantitative",
      "scale": {"domain": [-50000000, 1005000000], "nice": false, "zero": false},
      "axis": {"title": "Doses Produced", "values": [0, 250000000, 500000000, 750000000, 1000000000], "format": ",d", "labelPadding": 3, "titleFontSize": 15, "titleFontWeight": "normal", "titleColor": "#222", "titleX": -92, "titleY": 157, "titleAngle": -90, "titleAlign": "center", "titleBaseline": "middle"}
    },
    "color": {
      "field": "vaccine", "type": "nominal",
      "scale": {
        "domain": ["CoronaVac (Sinovac)", "BNT162b2 (Pfizer/BioNTech)", "BBIBP-CorV (Beijing/Sinopharm)", "mRNA-1273 (Moderna)", "AZD1222 (University of Oxford/AstraZeneca)", "COVAXIN (Bharat/ICMR/NIV)", "Ad26COVS1 (J&J)", "EpiVacCorona (VECTOR)", "ZF2001 (Anhui Zhifei)", "Ad5-nCoV (CanSino)", "QazCovid-in (RI for Biological Safety Problems)", "Sputnik V (Gamaleya)", "NVX-CoV2373 (Novavax)"],
        "range": ["#964646", "#ee2b2b", "#f5a42c", "#f15d2b", "#3d9a3a", "#e8a3b8", "#3f83d4", "#9fd54a", "#fb8a79", "#a44cf5", "#6a4a90", "#17b8cc", "#b8860b"]
      },
      "legend": {
        "title": null,
        "values": ["CoronaVac (Sinovac)", "BNT162b2 (Pfizer/BioNTech)", "BBIBP-CorV (Beijing/Sinopharm)", "mRNA-1273 (Moderna)", "AZD1222 (University of Oxford/AstraZeneca)", "COVAXIN (Bharat/ICMR/NIV)", "Ad26COVS1 (J&J)", "EpiVacCorona (VECTOR)", "ZF2001 (Anhui Zhifei)", "Ad5-nCoV (CanSino)", "QazCovid-in (RI for Biological Safety Problems)"],
        "orient": "none", "legendX": 1045, "legendY": 2, "direction": "vertical",
        "symbolType": "stroke", "symbolSize": 900, "symbolStrokeWidth": 2,
        "labelFontSize": 10.8, "labelFont": "DejaVu Sans", "labelColor": "#222", "labelOffset": 6,
        "rowPadding": 8, "padding": 0, "labelLimit": 400
      }
    }
  }
}
